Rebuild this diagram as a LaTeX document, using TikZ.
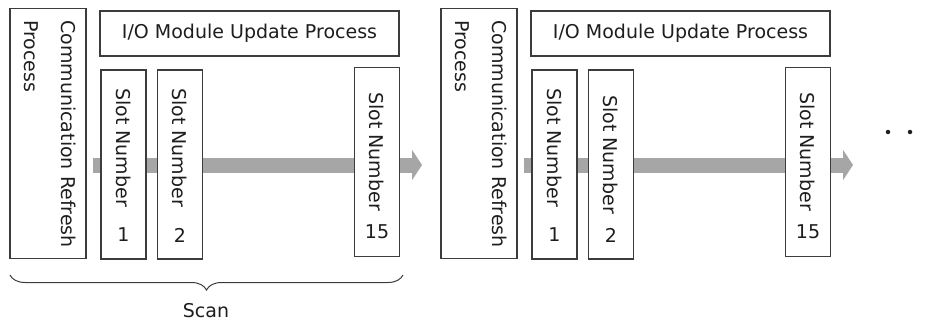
\documentclass[tikz,border=0pt]{standalone}
\usepackage{fontspec}
\setmainfont{DejaVu Sans}
\usetikzlibrary{arrows.meta,decorations.pathreplacing}
\definecolor{boxline}{HTML}{3C3C3C}
\definecolor{flowgray}{HTML}{A6A6A6}
\definecolor{ink}{HTML}{1E1E1E}
\begin{document}
\begin{tikzpicture}[x=1pt,y=-1pt,
  font=\fontsize{19}{37}\selectfont, text=ink,
  box/.style={draw=boxline,line width=1.2pt,fill=white,inner sep=0pt},
  slot/.style={box,minimum width=45pt,minimum height=189pt},
  vtext/.style={rotate=-90,anchor=west,inner sep=0pt},
  flow/.style={draw=flowgray,line width=15pt,-{Triangle[length=10pt,width=30pt]}},
  scanbrace/.style={draw=boxline,line width=1pt,decorate,decoration={brace,amplitude=15pt,mirror}}]

\useasboundingbox (0,0) rectangle (926,322);

% first scan
\coordinate (F1a) at (93,165);
\coordinate (F1b) at (422,165);
\draw[flow] (F1a) -- (F1b);

\node at (48,133.5) [box,minimum width=76pt,minimum height=250pt] (CR1) {};
\node at (76,20) [rotate=-90,anchor=north west,align=left,inner sep=0pt] (CR1t) {Communication Refresh\\Process};

\node at (249.5,33.5) [box,minimum width=299pt,minimum height=45pt] (IO1) {I/O Module Update Process};

\node at (123.5,164.5) [slot] (S11) {};
\node at (123.5,88) [vtext] (S11t) {Slot Number};
\node at (123.5,235) (S11n) {1};

\node at (180,164.5) [slot] (S12) {};
\node at (180,88) [vtext] (S12t) {Slot Number};
\node at (180,235) (S12n) {2};

\node at (377,162) [slot] (S115) {};
\node at (377,92) [vtext] (S115t) {Slot Number};
\node at (377,232) (S115n) {15};

\coordinate (B1a) at (10,275);
\coordinate (B1b) at (403,275);
\draw[scanbrace] (B1a) -- (B1b);
\node at (206,311) (SC) {Scan};

% second scan
\coordinate (F2a) at (524,165);
\coordinate (F2b) at (853,165);
\draw[flow] (F2a) -- (F2b);

\node at (479,133.5) [box,minimum width=76pt,minimum height=250pt] (CR2) {};
\node at (507,20) [rotate=-90,anchor=north west,align=left,inner sep=0pt] (CR2t) {Communication Refresh\\Process};

\node at (680.5,33.5) [box,minimum width=299pt,minimum height=45pt] (IO2) {I/O Module Update Process};

\node at (554.5,164.5) [slot] (S21) {};
\node at (554.5,88) [vtext] (S21t) {Slot Number};
\node at (554.5,235) (S21n) {1};

\node at (611,164.5) [slot] (S22) {};
\node at (611,95) [vtext] (S22t) {Slot Number};
\node at (611,235) (S22n) {2};

\node at (808,162) [slot] (S215) {};
\node at (808,92) [vtext] (S215t) {Slot Number};
\node at (808,232) (S215n) {15};

% more scans
\node at (888,132) [circle,fill=ink,inner sep=0pt,minimum size=4.5pt] (D1) {};
\node at (910,132) [circle,fill=ink,inner sep=0pt,minimum size=4.5pt] (D2) {};

\end{tikzpicture}
\end{document}
